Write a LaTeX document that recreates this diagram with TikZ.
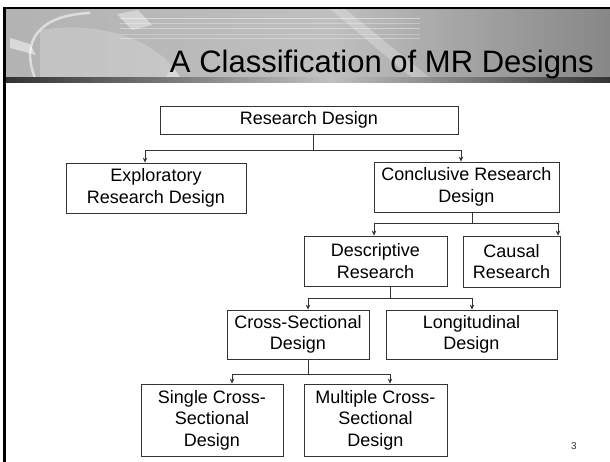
\documentclass[tikz,border=0pt]{standalone}
\usepackage{fontspec}
\setmainfont{Liberation Sans}
\usetikzlibrary{calc,arrows.meta}
\definecolor{boxline}{HTML}{333333}
\tikzset{
  box/.style={draw=boxline, line width=0.8pt, fill=white, inner sep=0pt, align=center,
    font=\fontsize{18}{21.5}\selectfont},
  arr/.style={draw=boxline, line width=0.8pt, -{Stealth[length=5pt,width=4.5pt]}},
  stem/.style={draw=boxline, line width=0.8pt}
}
\begin{document}
\begin{tikzpicture}[x=1pt,y=-1pt]
\useasboundingbox (0,0) rectangle (610,462);
\fill[white] (0,0) rectangle (610,462);
% header band
\shade[left color=black!30, right color=black!25] (6,9) rectangle (330,78);
\shade[left color=black!25, right color=black!47] (330,9) rectangle (610,78);
% streaks
\foreach \yy/\op in {18/0.45,23/0.3,28/0.4,34/0.25,38/0.35}{
  \fill[white, opacity=\op] (120,\yy) rectangle (420,\yy+1.5);
}
\fill[white, opacity=0.25] (330,9) -- (345,9) -- (430,78) -- (412,78) -- cycle;
% left decoration
\draw[white, opacity=0.55, line width=2.5pt] (35,78) .. controls (20,40) and (40,15) .. (90,13);
\fill[white, opacity=0.5] (10,38) -- (30,44) -- (36,55) -- (10,48) -- cycle;
\fill[white, opacity=0.4] (117,14) -- (138,10) -- (152,25) -- (132,30) -- cycle;
\fill[white, opacity=0.2] (40,30) .. controls (100,20) and (160,40) .. (180,78) -- (40,78) -- cycle;
\fill[white, opacity=0.35] (165,78) -- (173,67) -- (181,78) -- cycle;
% bottom dark bar
\shade[left color=black!80, right color=black!25] (6,78) rectangle (330,83);
\shade[left color=black!25, right color=black!80] (330,78) rectangle (610,83);
% frame lines
\fill[black] (3,7) rectangle (610,9);
\fill[black] (3,7) rectangle (6,462);
% title
\node[anchor=base east, inner sep=0pt, font=\fontsize{31}{36}\selectfont] (title) at (594,73) {A Classification of MR Designs};
% boxes
\node[box, minimum width=298pt, minimum height=28pt] (rd) at (309,120) {Research Design};
\node[box, minimum width=180pt, minimum height=50pt] (expl) at (156,188) {Exploratory\\Research Design};
\node[box, minimum width=185pt, minimum height=50pt] (concl) at (466.5,187) {Conclusive Research\\Design};
\node[box, minimum width=143pt, minimum height=50pt] (desc) at (375.5,261) {Descriptive\\Research};
\node[box, minimum width=97pt, minimum height=51pt] (causal) at (511.5,261.5) {Causal\\Research};
\node[box, minimum width=142pt, minimum height=49pt] (cross) at (298,334.5) {Cross-Sectional\\Design};
\node[box, minimum width=171pt, minimum height=49pt] (longi) at (471.5,334.5) {Longitudinal\\Design};
\node[box, minimum width=142pt, minimum height=72pt] (single) at (212,420) {Single Cross-\\Sectional\\Design};
\node[box, minimum width=143pt, minimum height=72pt] (multi) at (375.5,420) {Multiple Cross-\\Sectional\\Design};
% connectors
\draw[stem] ($(rd.south)+(4,0)$) -- ($(rd.south)+(4,16)$);
\draw[arr] ($(rd.south)+(4,16)$) -| ($(expl.north)+(-11,0)$);
\draw[arr] ($(rd.south)+(4,16)$) -| ($(concl.north)+(-5.5,0)$);
\draw[stem] ($(concl.south)+(5.5,0)$) -- ($(concl.south)+(5.5,11)$);
\draw[arr] ($(concl.south)+(5.5,11)$) -| ($(desc.north)+(-1.5,0)$);
\draw[arr] ($(concl.south)+(5.5,11)$) -| ($(causal.north)+(46.5,0)$);
\draw[stem] ($(desc.south)+(14.5,0)$) -- ($(desc.south)+(14.5,12)$);
\draw[arr] ($(desc.south)+(14.5,12)$) -| ($(cross.north)+(10,0)$);
\draw[arr] ($(desc.south)+(14.5,12)$) -| ($(longi.north)+(0.5,0)$);
\draw[stem] ($(cross.south)+(10,0)$) -- ($(cross.south)+(10,15)$);
\draw[arr] ($(cross.south)+(10,15)$) -| ($(single.north)+(20,0)$);
\draw[arr] ($(cross.south)+(10,15)$) -| ($(multi.north)+(14.5,0)$);
% page number
\node[font=\fontsize{10}{12}\selectfont, text=black!80, inner sep=0pt] (pnum) at (574,446) {3};
\end{tikzpicture}
\end{document}
